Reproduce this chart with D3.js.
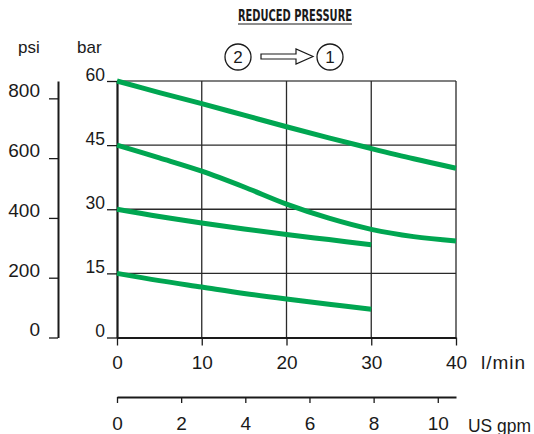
<!DOCTYPE html>
<html>
<head>
<meta charset="utf-8">
<script src="https://cdn.jsdelivr.net/npm/d3@7"></script>
<style>
  body { margin: 0; background: #fff; }
  svg { display: block; }
  .axis path, .axis line { stroke: #1a1a1a; }
  .axis text { fill: #1a1a1a; font-family: "Liberation Sans", Arial, sans-serif; }
</style>
</head>
<body>
<div id="chart"></div>
<script>
// Flow in l/min, outlet pressure in bar
var flowLong = [0, 5, 10, 15, 20, 25, 30, 35, 40]
var flowShort = [0, 5, 10, 15, 20, 25, 30]
var curve60 = [60, 57.3, 54.7, 52.0, 49.3, 46.7, 44.2, 41.8, 39.6]
var curve45 = [45, 42.0, 38.9, 35.2, 31.2, 27.9, 25.3, 23.6, 22.6]
var curve30 = [30, 28.3, 26.8, 25.4, 24.1, 22.9, 21.7]
var curve15 = [15, 13.3, 11.8, 10.3, 9.0, 7.8, 6.6]

var barTicks = [0, 15, 30, 45, 60]
var psiTicks = [0, 200, 400, 600, 800]
var lpmTicks = [0, 10, 20, 30, 40]
var gpmTicks = [0, 2, 4, 6, 8, 10]

var title = "REDUCED PRESSURE"
var LPM_PER_GPM = 3.785

var width = 534, height = 434
var green = "#00a651"

var svg = d3.select("#chart").append("svg")
  .attr("width", width)
  .attr("height", height)

// Setup: scales
var x = d3.scaleLinear().domain([0, 40]).range([117, 456])
var y = d3.scaleLinear().domain([0, 60]).range([337.5, 81])
var psi = d3.scaleLinear().domain([0, 858]).range([337.5, 81])
var gpm = d3.scaleLinear().domain([0, 40 / LPM_PER_GPM]).range([117, 456])

// Title
svg.append("text")
  .attr("x", 238)
  .attr("y", 21)
  .attr("textLength", 114)
  .attr("lengthAdjust", "spacingAndGlyphs")
  .style("font", "bold 16px 'Liberation Sans Narrow', 'DejaVu Sans Condensed', sans-serif")
  .style("fill", "#1a1a1a")
  .text(title)

svg.append("line")
  .attr("x1", 238).attr("x2", 352)
  .attr("y1", 24).attr("y2", 24)
  .style("stroke", "#1a1a1a")
  .style("stroke-width", 1)

// Flow direction: 2 -> 1
var flowSign = svg.append("g").attr("class", "flow-sign")
;[{n: "2", cx: 238}, {n: "1", cx: 330}].forEach(function(d) {
  flowSign.append("circle")
    .attr("cx", d.cx).attr("cy", 57).attr("r", 13)
    .style("fill", "none")
    .style("stroke", "#1a1a1a")
    .style("stroke-width", 1.3)
  flowSign.append("text")
    .attr("x", d.cx).attr("y", 57)
    .attr("dy", "0.36em")
    .style("text-anchor", "middle")
    .style("font", "17px 'Liberation Sans', sans-serif")
    .style("fill", "#1a1a1a")
    .text(d.n)
})
flowSign.append("path")
  .attr("d", "M261,54 L296,54 L296,49 L313,56.5 L296,64 L296,59 L261,59 Z")
  .style("fill", "none")
  .style("stroke", "#1a1a1a")
  .style("stroke-width", 1.2)

// Unit labels
svg.append("text")
  .attr("x", 18).attr("y", 53)
  .style("font", "17px 'Liberation Sans', sans-serif")
  .style("fill", "#1a1a1a")
  .text("psi")
svg.append("text")
  .attr("x", 77).attr("y", 53)
  .style("font", "17px 'Liberation Sans', sans-serif")
  .style("fill", "#1a1a1a")
  .text("bar")

// Grid
var grid = svg.append("g").attr("class", "grid")
grid.selectAll(".hline")
  .data(barTicks.filter(function(d) { return d > 0 }))
  .enter().append("line")
    .attr("class", "hline")
    .attr("x1", x(0)).attr("x2", x(40))
    .attr("y1", function(d) { return y(d) })
    .attr("y2", function(d) { return y(d) })
    .style("stroke", function(d) { return d == 60 ? "#555" : "#2a2a2a" })
    .style("stroke-width", 1.3)
grid.selectAll(".vline")
  .data(lpmTicks.filter(function(d) { return d > 0 }))
  .enter().append("line")
    .attr("class", "vline")
    .attr("x1", function(d) { return x(d) })
    .attr("x2", function(d) { return x(d) })
    .attr("y1", y(0)).attr("y2", y(60))
    .style("stroke", "#2a2a2a")
    .style("stroke-width", 1.3)

// psi axis
var psiAxis = svg.append("g")
  .attr("class", "axis axis--psi")
  .attr("transform", "translate(58,0)")
  .call(d3.axisLeft(psi).tickValues(psiTicks).tickSize(9).tickSizeOuter(0).tickPadding(9))
psiAxis.select(".domain").style("stroke-width", 2)
psiAxis.selectAll("line").style("stroke-width", 1.3)
psiAxis.selectAll("text").attr("dy", "-0.08em").style("font-size", "19px")

// bar axis
var barAxis = svg.append("g")
  .attr("class", "axis axis--bar")
  .attr("transform", "translate(" + x(0) + ",0)")
  .call(d3.axisLeft(y).tickValues(barTicks).tickSize(10).tickSizeOuter(0).tickPadding(2))
barAxis.select(".domain").style("stroke-width", 2.2)
barAxis.selectAll("line").style("stroke-width", 1.3)
barAxis.selectAll("text").attr("dy", "-0.05em").style("font-size", "17.5px")

// l/min axis
var lpmAxis = svg.append("g")
  .attr("class", "axis axis--lpm")
  .attr("transform", "translate(0," + y(0) + ")")
  .call(d3.axisBottom(x).tickValues(lpmTicks).tickSize(8).tickSizeOuter(0).tickPadding(10))
lpmAxis.select(".domain").style("stroke-width", 2.2)
lpmAxis.selectAll("line").style("stroke-width", 1.3)
lpmAxis.selectAll("text").style("font-size", "19px")
lpmAxis.append("text")
  .attr("x", 481).attr("y", 31.5)
  .attr("textLength", 44)
  .style("text-anchor", "start")
  .style("font-size", "19px")
  .text("l/min")

// US gpm axis
var gpmAxis = svg.append("g")
  .attr("class", "axis axis--gpm")
  .attr("transform", "translate(0,397)")
  .call(d3.axisBottom(gpm).tickValues(gpmTicks).tickSize(6).tickSizeOuter(0).tickPadding(14))
gpmAxis.select(".domain").style("stroke-width", 1.8)
gpmAxis.selectAll("line").style("stroke-width", 1.3)
gpmAxis.selectAll("text").style("font-size", "19px")
gpmAxis.append("text")
  .attr("x", 468).attr("y", 34.5)
  .attr("textLength", 63)
  .attr("lengthAdjust", "spacingAndGlyphs")
  .style("text-anchor", "start")
  .style("font-size", "18px")
  .text("US gpm")

// Curves
var line = d3.line()
  .curve(d3.curveCatmullRom)
  .x(function(d) { return x(d.flow) })
  .y(function(d) { return y(d.value) })

var curves = [
  {flow: flowLong, values: curve60},
  {flow: flowLong, values: curve45},
  {flow: flowShort, values: curve30},
  {flow: flowShort, values: curve15}
].map(function(c) {
  return c.values.map(function(v, i) { return {flow: c.flow[i], value: v} })
})

svg.append("g").attr("class", "curves")
  .selectAll("path")
  .data(curves)
  .enter().append("path")
    .attr("d", line)
    .style("fill", "none")
    .style("stroke", green)
    .style("stroke-width", 5)
</script>
</body>
</html>
